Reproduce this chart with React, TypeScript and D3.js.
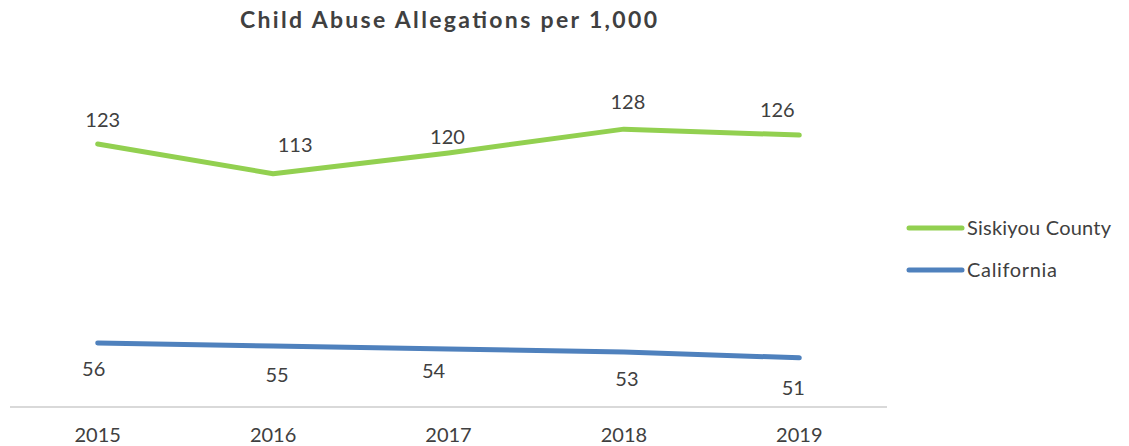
import React from "react";
import * as d3 from "d3";

const years = ["2015", "2016", "2017", "2018", "2019"];
const siskiyou = [123, 113, 120, 128, 126];
const california = [56, 55, 54, 53, 51];
const seriesNames = ["Siskiyou County", "California"];
const colors = ["#92D050", "#4F81BD"];
// label nudges (dx, dy from point to text baseline)
const siskiyouLabelOffset = [[5, -17], [22, -22], [-1, -9], [4, -20], [-22, -18]];
const californiaLabelOffset = [[-4, 33], [4, 36], [-15, 29], [3, 34], [-6, 37]];
const legendTextWidths = [144, 90];

const W = 1129, H = 446;
const FONT = "Lato, 'Noto Sans', sans-serif";
const TXT = "#404040";

export default function App() {
  const x = d3.scaleBand<string>().domain(years).range([10, 887]);
  const y = d3.scaleLinear().domain([40, 140]).range([390.5, 93.5]);
  const cx = (d: string) => (x(d) as number) + x.bandwidth() / 2;
  const line = d3.line<number>().x((_, i) => cx(years[i])).y((v) => y(v));
  const series = [
    { name: seriesNames[0], values: siskiyou, off: siskiyouLabelOffset, color: colors[0] },
    { name: seriesNames[1], values: california, off: californiaLabelOffset, color: colors[1] },
  ];
  return (
    <div style={{ position: "absolute", left: 0, top: 0 }}>
      <svg width={W} height={H} style={{ display: "block", background: "#fff" }}>
        <text x={240} y={28} textLength={417} lengthAdjust="spacing" fontFamily={FONT} fontWeight="bold" fontSize={23} fill={TXT}>
          Child Abuse Allegations per 1,000
        </text>
        <line x1={10} x2={887} y1={407} y2={407} stroke="#D9D9D9" strokeWidth={2} />
        {years.map((yr) => (
          <text key={yr} x={cx(yr)} y={442} textAnchor="middle" fontFamily={FONT} fontSize={20} fill={TXT}>
            {yr}
          </text>
        ))}
        {series.map((s) => (
          <g key={s.name}>
            <path d={line(s.values) || ""} fill="none" stroke={s.color} strokeWidth={5} strokeLinecap="round" strokeLinejoin="round" />
            {s.values.map((v, i) => (
              <text key={i} x={cx(years[i]) + s.off[i][0]} y={y(v) + s.off[i][1]} textAnchor="middle" fontFamily={FONT} fontSize={20} fill={TXT}>
                {v}
              </text>
            ))}
          </g>
        ))}
        {series.map((s, i) => (
          <g key={"lg" + i} transform={`translate(0, ${228 + i * 42})`}>
            <line x1={909} x2={962} y1={0} y2={0} stroke={s.color} strokeWidth={5} strokeLinecap="round" />
            <text x={967} y={7} textLength={legendTextWidths[i]} lengthAdjust="spacing" fontFamily={FONT} fontSize={20} fill={TXT}>
              {s.name}
            </text>
          </g>
        ))}
      </svg>
    </div>
  );
}
